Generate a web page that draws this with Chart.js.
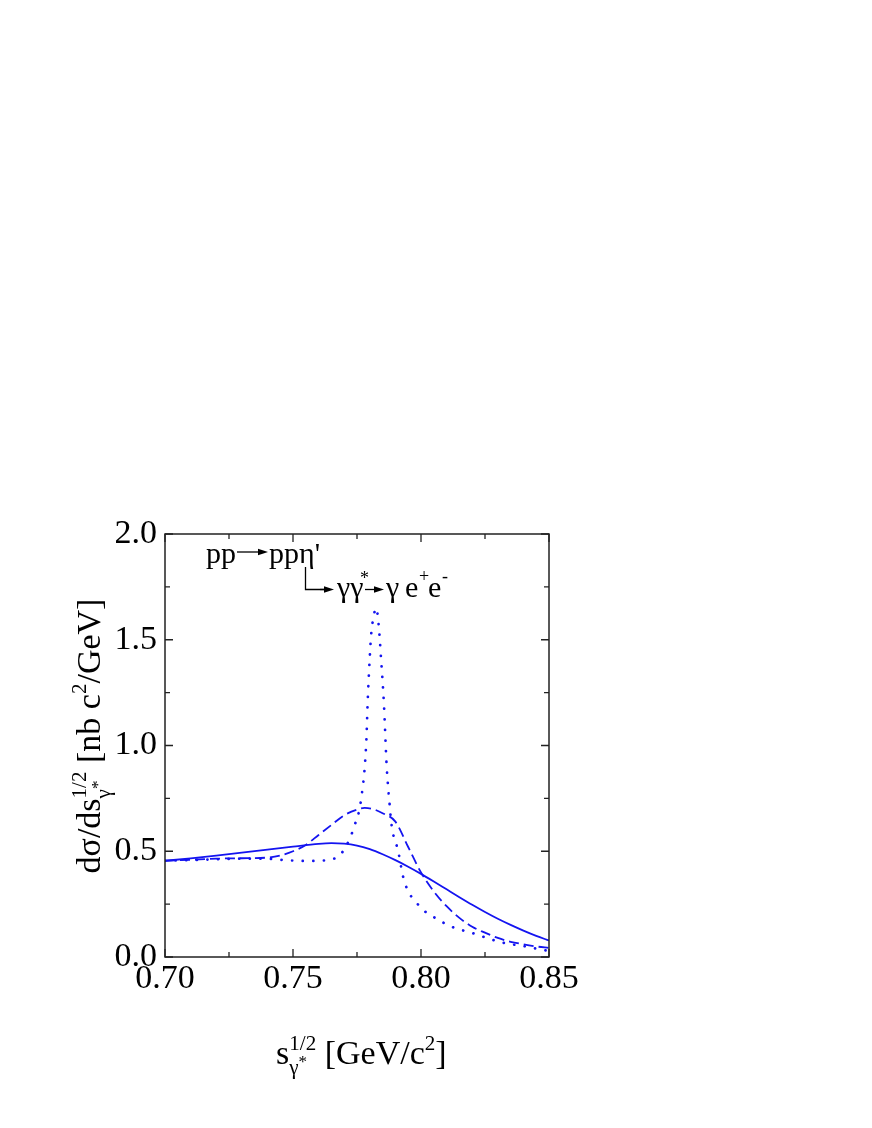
<!DOCTYPE html>
<html>
<head>
<meta charset="utf-8">
<script src="https://cdn.jsdelivr.net/npm/chart.js@4/dist/chart.umd.min.js"></script>
<style>
html,body{margin:0;padding:0;background:#fff;}
canvas{display:block;}
</style>
</head>
<body>
<canvas id="c" width="872" height="1128"></canvas>
<script>
// ---- data ----
const xTicks = [0.70, 0.75, 0.80, 0.85];
const yTicks = [0.0, 0.5, 1.0, 1.5, 2.0];

const solidX = [0.700,0.710,0.720,0.730,0.740,0.750,0.760,0.765,0.770,0.775,0.780,0.785,0.790,0.795,0.800,0.805,0.810,0.815,0.820,0.825,0.830,0.835,0.840,0.845,0.850];
const solidY = [0.455,0.466,0.479,0.493,0.508,0.522,0.535,0.538,0.536,0.527,0.510,0.486,0.458,0.427,0.393,0.357,0.320,0.283,0.247,0.213,0.181,0.152,0.125,0.100,0.078];

const dashX = [0.700,0.710,0.720,0.730,0.740,0.745,0.750,0.755,0.760,0.765,0.770,0.775,0.778,0.781,0.785,0.790,0.795,0.800,0.805,0.810,0.815,0.820,0.825,0.830,0.835,0.840,0.845,0.850];
const dashY = [0.455,0.460,0.465,0.467,0.470,0.480,0.500,0.530,0.577,0.624,0.670,0.697,0.705,0.700,0.680,0.640,0.520,0.400,0.310,0.240,0.185,0.143,0.115,0.090,0.072,0.060,0.050,0.043];

const dotX = [0.700,0.710,0.720,0.730,0.740,0.745,0.750,0.755,0.760,0.765,0.768,0.771,0.774,0.7766,0.7786,0.7792,0.7800,0.7805,0.7815,0.7825,0.7835,0.7844,0.7855,0.7866,0.7876,0.7885,0.7911,0.7930,0.7950,0.7977,0.8009,0.8048,0.8120,0.8204,0.8283,0.8330,0.8413,0.8478,0.8500];
const dotY = [0.455,0.458,0.462,0.465,0.465,0.460,0.456,0.454,0.455,0.462,0.478,0.530,0.620,0.745,1.010,1.215,1.420,1.520,1.610,1.650,1.565,1.410,1.200,0.900,0.742,0.624,0.500,0.380,0.310,0.265,0.222,0.190,0.143,0.112,0.080,0.065,0.049,0.033,0.030];

const BLUE = '#1414f0';
const FONT = '"Liberation Serif", "Times New Roman", serif';

function pts(xs, ys){ return xs.map((x,i)=>({x:x, y:ys[i]})); }

// ---- helper for rich text (super/subscripts) ----
function drawRich(ctx, parts, x, y, size, measureOnly){
  let cx = x;
  for (const p of parts){
    if (p.stack){ // stacked sub & sup
      let w = 0;
      for (const s of p.stack){
        ctx.font = (size*s.scale)+'px '+FONT;
        let ww = ctx.measureText(s.t).width;
        if (!measureOnly) ctx.fillText(s.t, cx, y + s.dy*size);
        w = Math.max(w, ww);
      }
      cx += w;
    } else {
      const sc = p.scale || 1;
      ctx.font = (size*sc)+'px '+FONT;
      if (!measureOnly) ctx.fillText(p.t, cx, y + (p.dy||0)*size);
      cx += ctx.measureText(p.t).width;
    }
  }
  return cx - x;
}

function arrow(ctx, x1, y1, x2, y2){
  ctx.beginPath();
  ctx.moveTo(x1, y1); ctx.lineTo(x2-6, y2); ctx.stroke();
  ctx.beginPath();
  ctx.moveTo(x2, y2); ctx.lineTo(x2-10, y2-3.2); ctx.lineTo(x2-10, y2+3.2); ctx.closePath(); ctx.fill();
}

const decor = {
  id: 'decor',
  afterDraw(chart){
    const ctx = chart.ctx;
    const a = chart.chartArea;
    const xs = chart.scales.x, ys = chart.scales.y;
    ctx.save();
    // frame
    ctx.strokeStyle = '#222'; ctx.lineWidth = 1.5;
    ctx.strokeRect(a.left, a.top, a.right-a.left, a.bottom-a.top);
    // inside ticks on all four sides
    ctx.lineWidth = 1.3;
    ctx.beginPath();
    for (let i = 0; i <= 6; i++){
      const v = 0.70 + i*0.025;
      const px = xs.getPixelForValue(v);
      const L = (i % 2 === 0) ? 8 : 5;
      ctx.moveTo(px, a.bottom); ctx.lineTo(px, a.bottom - L);
      ctx.moveTo(px, a.top); ctx.lineTo(px, a.top + L);
    }
    for (let i = 0; i <= 8; i++){
      const v = i*0.25;
      const py = ys.getPixelForValue(v);
      const L = (i % 2 === 0) ? 8 : 5;
      ctx.moveTo(a.left, py); ctx.lineTo(a.left + L, py);
      ctx.moveTo(a.right, py); ctx.lineTo(a.right - L, py);
    }
    ctx.stroke();

    ctx.fillStyle = '#000'; ctx.strokeStyle = '#000';
    ctx.textBaseline = 'alphabetic'; ctx.textAlign = 'left';

    const S = 34;
    // x axis title
    const xParts = [
      {t:'s'},
      {stack:[{t:'1/2', dy:-0.42, scale:0.62},{t:'γ', dy:0.28, scale:0.62}]},
      {t:' [GeV/c'},
      {t:'2', dy:-0.42, scale:0.62},
      {t:']'}
    ];
    drawRich(ctx, xParts, 276, 1064, S);
    ctx.font = S+'px '+FONT;
    const ws = ctx.measureText('s').width;
    ctx.font = (S*0.62)+'px '+FONT;
    const wg = ctx.measureText('γ').width;
    ctx.font = (S*0.5)+'px '+FONT;
    ctx.fillText('*', 276 + ws + wg, 1064 + 0.08*S);

    // y axis title (rotated)
    const yParts = [
      {t:'dσ/ds'},
      {stack:[{t:'1/2', dy:-0.42, scale:0.62},{t:'γ', dy:0.28, scale:0.62}]},
      {t:' [nb c'},
      {t:'2', dy:-0.42, scale:0.62},
      {t:'/GeV]'}
    ];
    const w = drawRich(ctx, yParts, 0, 0, S, true);
    ctx.save();
    ctx.translate(100, 736);
    ctx.rotate(-Math.PI/2);
    drawRich(ctx, yParts, -w/2, 0, S);
    ctx.font = S+'px '+FONT;
    const wd = ctx.measureText('dσ/ds').width;
    ctx.font = (S*0.5)+'px '+FONT;
    ctx.fillText('*', -w/2 + wd + wg, 0.08*S);
    ctx.restore();

    // annotation: pp -> pp eta'  ->  gamma gamma* -> gamma e+ e-
    const F = 30;
    ctx.font = F+'px '+FONT;
    ctx.lineWidth = 1.3;
    ctx.fillText('pp', 206, 563);
    arrow(ctx, 237, 552, 268, 552);
    ctx.fillText("ppη'", 269, 563);
    ctx.beginPath();
    ctx.moveTo(305.5, 567); ctx.lineTo(305.5, 589.5); ctx.lineTo(326, 589.5); ctx.stroke();
    arrow(ctx, 320, 589.5, 334, 589.5);
    ctx.font = F+'px '+FONT;
    ctx.fillText('γγ', 337, 597);
    ctx.font = (F*0.6)+'px '+FONT;
    ctx.fillText('*', 360, 584);
    arrow(ctx, 365, 589.5, 384, 589.5);
    ctx.font = F+'px '+FONT;
    ctx.fillText('γ', 386, 597);
    ctx.fillText('e', 405, 597);
    ctx.font = (F*0.6)+'px '+FONT;
    ctx.fillText('+', 419, 582);
    ctx.font = F+'px '+FONT;
    ctx.fillText('e', 428, 597);
    ctx.font = (F*0.6)+'px '+FONT;
    ctx.fillText('-', 442, 582);
    ctx.restore();
  }
};

new Chart(document.getElementById('c'), {
  type: 'scatter',
  data: {
    datasets: [
      { data: pts(solidX, solidY), showLine: true, borderColor: BLUE, borderWidth: 1.8, pointRadius: 0, cubicInterpolationMode: 'monotone', fill: false },
      { data: pts(dashX, dashY), showLine: true, borderColor: BLUE, borderWidth: 1.8, borderDash: [10, 5], pointRadius: 0, cubicInterpolationMode: 'monotone', fill: false },
      { data: pts(dotX, dotY), showLine: true, borderColor: BLUE, borderWidth: 2.7, borderDash: [0.1, 10.5], borderCapStyle: 'round', pointRadius: 0, cubicInterpolationMode: 'monotone', fill: false }
    ]
  },
  options: {
    responsive: false,
    animation: false,
    events: [],
    layout: { padding: { top: 534, left: 0, right: 323, bottom: 0 } },
    plugins: { legend: { display: false }, tooltip: { enabled: false } },
    scales: {
      x: {
        type: 'linear', min: 0.70, max: 0.85,
        border: { display: false },
        grid: { display: false, drawTicks: false },
        afterBuildTicks: s => { s.ticks = xTicks.map(v => ({value: v})); },
        afterFit: s => { s.height = 171; },
        ticks: { color: '#000', padding: 2, font: { family: FONT, size: 34 }, maxRotation: 0, autoSkip: false,
                 callback: v => Number(v).toFixed(2) }
      },
      y: {
        type: 'linear', min: 0, max: 2.0,
        border: { display: false },
        grid: { display: false, drawTicks: false },
        afterBuildTicks: s => { s.ticks = yTicks.map(v => ({value: v})); },
        afterFit: s => { s.width = 165; },
        ticks: { color: '#000', padding: 8, font: { family: FONT, size: 34 }, autoSkip: false,
                 callback: v => Number(v).toFixed(1) }
      }
    }
  },
  plugins: [decor]
});
</script>
</body>
</html>
